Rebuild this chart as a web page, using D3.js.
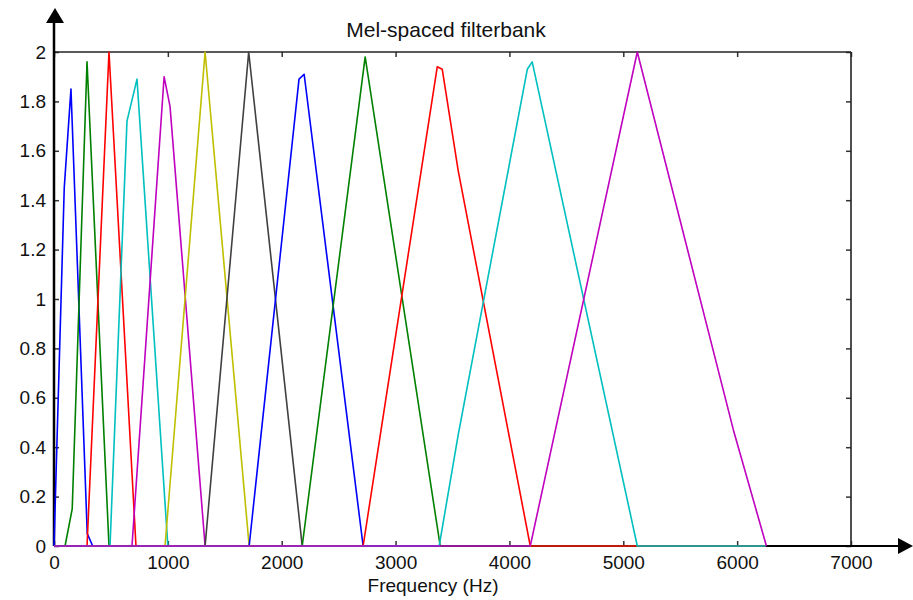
<!DOCTYPE html>
<html><head><meta charset="utf-8">
<script src="https://cdn.jsdelivr.net/npm/d3@7"></script>
<style>body{margin:0;background:#fff}svg{display:block}text{font-family:"Liberation Sans",Arial,sans-serif;fill:#111}</style>
</head><body><svg id="c" width="913" height="600"></svg>
<script>
const title = "Mel-spaced filterbank";
const xLabel = "Frequency (Hz)";
const freqTicks = [0,1000,2000,3000,4000,5000,6000,7000];
const ampTicks = [0,0.2,0.4,0.6,0.8,1,1.2,1.4,1.6,1.8,2];
const filterColors = ["#0000ff","#008000","#ff0000","#00bfbf","#bf00bf","#bfbf00","#404040",
                      "#0000ff","#008000","#ff0000","#00bfbf","#bf00bf"];
const nyquist = 6250;
const filter1  = [[0,0],[90,1.45],[149,1.85],[292,0.05],[340,0]];
const filter2  = [[97,0],[160,0.15],[290,1.96],[483,0]];
const filter3  = [[290,0],[483,2.0],[720,0]];
const filter4  = [[492,0],[641,1.72],[729,1.89],[1000,0]];
const filter5  = [[685,0],[967,1.9],[1019,1.78],[1327,0]];
const filter6  = [[975,0],[1327,2.0],[1714,0]];
const filter7  = [[1327,0],[1710,2.0],[2180,0]];
const filter8  = [[1714,0],[2152,1.89],[2197,1.91],[2715,0]];
const filter9  = [[2180,0],[2733,1.98],[3392,0]];
const filter10 = [[2715,0],[3366,1.94],[3410,1.93],[3550,1.52],[4183,0]];
const filter11 = [[3383,0],[3550,0.45],[4157,1.93],[4200,1.96],[5123,0]];
const filter12 = [[4183,0],[5123,2.0],[5967,0.47],[6257,0]];
const filters = [filter1,filter2,filter3,filter4,filter5,filter6,filter7,filter8,filter9,filter10,filter11,filter12];

const svg = d3.select("#c");
const L = 54, R = 851, T = 52, B = 546;
const x = d3.scaleLinear().domain([0,7000]).range([L,R]);
const y = d3.scaleLinear().domain([0,2]).range([B,T]);

const fmt = d => String(d);
const axB = svg.append("g").attr("transform",`translate(0,${B})`)
  .call(d3.axisBottom(x).tickValues(freqTicks).tickSize(-5).tickPadding(10).tickFormat(fmt));
const axT = svg.append("g").attr("transform",`translate(0,${T})`)
  .call(d3.axisTop(x).tickValues(freqTicks).tickSize(-5).tickFormat(""));
const axL = svg.append("g").attr("transform",`translate(${L},0)`)
  .call(d3.axisLeft(y).tickValues(ampTicks).tickSize(-5).tickPadding(8).tickFormat(fmt));
const axR = svg.append("g").attr("transform",`translate(${R},0)`)
  .call(d3.axisRight(y).tickValues(ampTicks).tickSize(-5).tickFormat(""));
[axB,axT,axL,axR].forEach(a=>{
  a.select(".domain").remove();
  a.selectAll(".tick line").attr("stroke","#333").attr("stroke-width",1.5);
  a.selectAll(".tick text").style("font-size","19px").attr("fill","#111");
});

svg.append("line").attr("x1",L).attr("x2",R).attr("y1",T).attr("y2",T).attr("stroke","#222").attr("stroke-width",1.6);
svg.append("line").attr("x1",R).attr("x2",R).attr("y1",T).attr("y2",B).attr("stroke","#222").attr("stroke-width",1.6);
svg.append("line").attr("x1",L).attr("x2",L).attr("y1",B).attr("y2",22).attr("stroke","#000").attr("stroke-width",2.5);
svg.append("line").attr("x1",L).attr("x2",899).attr("y1",B).attr("y2",B).attr("stroke","#000").attr("stroke-width",2.2);
svg.append("path").attr("d",`M${L+1},8 L${L-8},23 L${L+10},23 Z`).attr("fill","#000");
svg.append("path").attr("d",`M913,${B} L898,${B-8} L898,${B+8} Z`).attr("fill","#000");

const line = d3.line().x(d=>x(d[0])).y(d=>y(d[1]));
filters.forEach((f,i)=>{
  const pts = [];
  if (f[0][0] > 0) pts.push([0,0]);
  f.forEach(p=>pts.push(p));
  if (f[f.length-1][0] < nyquist) pts.push([nyquist,0]);
  svg.append("path").datum(pts).attr("d",line).attr("fill","none")
    .attr("stroke",filterColors[i]).attr("stroke-width",1.6).attr("stroke-linejoin","round");
});

svg.append("text").attr("x",446).attr("y",37).attr("text-anchor","middle").style("font-size","21px").text(title);
svg.append("text").attr("x",433).attr("y",592).attr("text-anchor","middle").style("font-size","19px").text(xLabel);
</script></body></html>
